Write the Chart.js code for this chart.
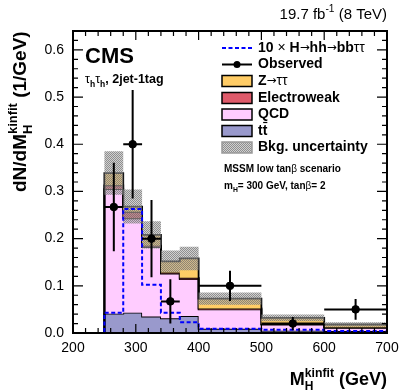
<!DOCTYPE html>
<html>
<head>
<meta charset="utf-8">
<script src="https://cdn.jsdelivr.net/npm/chart.js@4"></script>
<style>
  html, body { margin: 0; padding: 0; background: #fff; }
  #wrap { width: 407px; height: 391px; }
</style>
</head>
<body>
<div id="wrap"><canvas id="myChart" width="407" height="391"></canvas></div>
<script>
// bin edges (GeV) and per-bin contents (1/GeV)
const edges = [200, 250, 280, 310, 340, 370, 400, 500, 600, 700];
const ttbar = [0, 0.041, 0.043, 0.035, 0.031, 0.036, 0.009, 0.005, 0.004];
const qcd = [0, 0.264, 0.200, 0.147, 0.095, 0.078, 0.041, 0.013, 0.007];
const ewk = [0, 0.008, 0.014, 0.003, 0.002, 0.003, 0.002, 0.001, 0.001];
const ztt = [0, 0.026, 0.011, 0.023, 0.024, 0.041, 0.021, 0.013, 0.006];
const bkgUnc = [0, 0.046, 0.036, 0.029, 0.023, 0.025, 0.013, 0.007, 0.005];
const signal = [0, 0.043, 0.263, 0.102, 0.043, 0.023, 0.009, 0.007, 0.004];

// observed points
const obsX = [265, 295, 325, 355, 450, 550, 650];
const obsY = [0.267, 0.400, 0.200, 0.067, 0.100, 0.020, 0.050];
const obsErr = [0.094, 0.115, 0.082, 0.047, 0.032, 0.014, 0.022];

const FONT = "'Liberation Sans', Arial, Helvetica, sans-serif";
const SYM = "'DejaVu Sans', sans-serif";

// cumulative stack
function addArr(a, b) { return a.map((v, i) => v + b[i]); }
const s1 = ttbar;
const s2 = addArr(s1, qcd);
const s3 = addArr(s2, ewk);
const s4 = addArr(s3, ztt);
const uncLo = s4.map((v, i) => Math.max(0, v - bkgUnc[i]));
const uncHi = s4.map((v, i) => v + bkgUnc[i]);

// histogram values -> step points at the left edges + last edge
function steps(vals) {
  const pts = vals.map((v, i) => ({ x: edges[i], y: v }));
  pts.push({ x: edges[edges.length - 1], y: vals[vals.length - 1] });
  return pts;
}

// hatch pattern for the uncertainty band
function makeHatch() {
  const c = document.createElement("canvas");
  c.width = 2; c.height = 2;
  const g = c.getContext("2d");
  g.fillStyle = "rgba(170,170,170,0.55)";
  g.fillRect(0, 0, 2, 2);
  g.fillStyle = "rgba(100,100,100,0.6)";
  g.fillRect(0, 0, 1, 1);
  g.fillRect(1, 1, 1, 1);
  return g.createPattern(c, "repeat");
}
const hatch = makeHatch();

// draw text with sub/superscripts, returns width
function rich(ctx, parts, x, y, size, measureOnly) {
  let cx = x;
  parts.forEach(function (p) {
    let sz = size, dy = 0;
    if (p.s === "sub") { sz = size * 0.68; dy = size * 0.3; }
    if (p.s === "sup") { sz = size * 0.68; dy = -size * 0.45; }
    if (p.arrow) sz = size * 0.85;
    ctx.font = (p.normal ? "" : "bold ") + sz + "px " + (p.arrow ? SYM : FONT);
    if (!measureOnly) ctx.fillText(p.t, cx, y + dy);
    cx += ctx.measureText(p.t).width;
  });
  return cx - x;
}

const cmsPlugin = {
  id: "cmsDecor",
  afterDatasetsDraw(chart) {
    const ctx = chart.ctx;
    const xs = chart.scales.x, ys = chart.scales.y;
    // error bars of observed
    ctx.save();
    ctx.strokeStyle = "#000";
    ctx.lineWidth = 2;
    obsX.forEach(function (x, i) {
      let lo = edges[0], hi = edges[edges.length - 1];
      for (let k = 0; k < edges.length - 1; k++) {
        if (x >= edges[k] && x < edges[k + 1]) { lo = edges[k]; hi = edges[k + 1]; }
      }
      const px = xs.getPixelForValue(x), py = ys.getPixelForValue(obsY[i]);
      ctx.beginPath();
      ctx.moveTo(xs.getPixelForValue(lo), py);
      ctx.lineTo(xs.getPixelForValue(hi), py);
      ctx.moveTo(px, ys.getPixelForValue(obsY[i] - obsErr[i]));
      ctx.lineTo(px, ys.getPixelForValue(obsY[i] + obsErr[i]));
      ctx.stroke();
    });
    ctx.restore();
  },
  afterDraw(chart) {
    const ctx = chart.ctx;
    const a = chart.chartArea;
    const xs = chart.scales.x, ys = chart.scales.y;
    ctx.save();
    ctx.strokeStyle = "#000";
    ctx.lineWidth = 1.2;
    ctx.beginPath();
    for (let v = 200; v <= 700; v += 20) {
      const px = xs.getPixelForValue(v);
      const len = v % 100 === 0 ? 9 : 5;
      ctx.moveTo(px, a.bottom); ctx.lineTo(px, a.bottom - len);
      ctx.moveTo(px, a.top); ctx.lineTo(px, a.top + len);
    }
    for (let k = 0; k <= 32; k++) {
      const py = ys.getPixelForValue(k * 0.02);
      const len = k % 5 === 0 ? 10 : 5;
      ctx.moveTo(a.left, py); ctx.lineTo(a.left + len, py);
      ctx.moveTo(a.right, py); ctx.lineTo(a.right - len, py);
    }
    ctx.stroke();
    ctx.lineWidth = 2;
    ctx.strokeRect(a.left, a.top, a.right - a.left, a.bottom - a.top);

    ctx.fillStyle = "#000";
    ctx.textBaseline = "alphabetic";
    ctx.textAlign = "left";

    // lumi label
    const lumi = [{ t: "19.7 fb", normal: true }, { t: "-1", s: "sup", normal: true }, { t: " (8 TeV)", normal: true }];
    const lw = rich(ctx, lumi, 0, 0, 15, true);
    rich(ctx, lumi, a.right - lw, 19, 15);

    // CMS + channel
    ctx.font = "bold 22px " + FONT;
    ctx.fillText("CMS", 85, 63);
    rich(ctx, [{ t: "τ", normal: true }, { t: "h", s: "sub" }, { t: "τ", normal: true }, { t: "h", s: "sub" }, { t: ", 2jet-1tag" }], 85, 83, 12.5);

    // scenario text
    rich(ctx, [{ t: "MSSM low tan" }, { t: "β", normal: true }, { t: " scenario" }], 224, 172, 10);
    rich(ctx, [{ t: "m" }, { t: "H", s: "sub" }, { t: "= 300 GeV, tan" }, { t: "β", normal: true }, { t: "= 2" }], 224, 189, 10);

    // legend
    const lx = 222, lbw = 30, tx = 258;
    ctx.textBaseline = "middle";
    // signal
    ctx.strokeStyle = "#0000ff";
    ctx.lineWidth = 2;
    ctx.setLineDash([4, 2.5]);
    ctx.beginPath(); ctx.moveTo(lx, 48); ctx.lineTo(lx + lbw, 48); ctx.stroke();
    ctx.setLineDash([]);
    rich(ctx, [{ t: "10" }, { t: " × ", normal: true }, { t: "H" }, { t: "→", arrow: true, normal: true }, { t: "hh" }, { t: "→", arrow: true, normal: true }, { t: "bb" }, { t: "ττ", normal: true }], tx, 48, 14);
    // observed
    ctx.strokeStyle = "#000";
    ctx.beginPath(); ctx.moveTo(lx, 64.5); ctx.lineTo(lx + lbw, 64.5); ctx.stroke();
    ctx.beginPath(); ctx.arc(lx + lbw / 2, 64.5, 3.5, 0, Math.PI * 2); ctx.fill();
    rich(ctx, [{ t: "Observed" }], tx, 64.5, 14);
    const boxes = [
      { c: "#FFCC66", y: 81, parts: [{ t: "Z" }, { t: "→", arrow: true, normal: true }, { t: "ττ", normal: true }] },
      { c: "#DE5A6A", y: 98, parts: [{ t: "Electroweak" }] },
      { c: "#FFCCFF", y: 114.5, parts: [{ t: "QCD" }] },
      { c: "#9999CC", y: 131, parts: [{ t: "tt" }] },
      { c: hatch, y: 147.5, parts: [{ t: "Bkg. uncertainty" }] },
    ];
    boxes.forEach(function (b) {
      if (b.c === hatch) { ctx.fillStyle = "#fff"; ctx.fillRect(lx, b.y - 5.5, lbw, 11); }
      ctx.fillStyle = b.c;
      ctx.fillRect(lx, b.y - 5.5, lbw, 11);
      ctx.strokeStyle = b.c === hatch ? "#999" : "#000";
      ctx.lineWidth = 1.5;
      ctx.strokeRect(lx, b.y - 5.5, lbw, 11);
      ctx.fillStyle = "#000";
      rich(ctx, b.parts, tx, b.y, 14);
    });
    // bar over the second t of tt
    ctx.font = "bold 14px " + FONT;
    const tw = ctx.measureText("t").width;
    ctx.lineWidth = 1.2;
    ctx.strokeStyle = "#000";
    ctx.beginPath(); ctx.moveTo(tx + tw + 0.5, 122.5); ctx.lineTo(tx + 2 * tw, 122.5); ctx.stroke();

    // axis titles
    ctx.textBaseline = "alphabetic";
    const xt = [{ t: "M" }, { t: "kinfit", s: "sup" }, { t: " (GeV)" }];
    const xtw = rich(ctx, xt, 0, 0, 18, true);
    ctx.font = "bold 18px " + FONT;
    const mw = ctx.measureText("M").width;
    rich(ctx, xt, a.right - xtw, 385, 18);
    ctx.font = "bold 12px " + FONT;
    ctx.fillText("H", a.right - xtw + mw, 390);

    ctx.save();
    ctx.translate(26, 192);
    ctx.rotate(-Math.PI / 2);
    const yt = [{ t: "dN/dM" }, { t: "kinfit", s: "sup" }, { t: " (1/GeV)" }];
    rich(ctx, yt, 0, 0, 19);
    ctx.font = "bold 19px " + FONT;
    const dw = ctx.measureText("dN/dM").width;
    ctx.font = "bold 13px " + FONT;
    ctx.fillText("H", dw, 5.5);
    ctx.restore();
    ctx.restore();
  },
};

function stackSet(label, vals, color, fill, order) {
  return {
    label: label,
    data: steps(vals),
    stepped: "before",
    fill: fill,
    backgroundColor: color,
    borderColor: "#000",
    borderWidth: 1.8,
    pointRadius: 0,
    order: order,
  };
}

const ctx = document.getElementById("myChart");

new Chart(ctx, {
  type: "line",
  data: {
    datasets: [
      stackSet("tt", s1, "#9999CC", "origin", 10),
      stackSet("QCD", s2, "#FFCCFF", "-1", 9),
      stackSet("Electroweak", s3, "#DE5A6A", "-1", 8),
      stackSet("Z→ττ", s4, "#FFCC66", "-1", 7),
      {
        label: "uncLo",
        data: steps(uncLo),
        stepped: "before",
        fill: false,
        borderWidth: 0,
        borderColor: "rgba(0,0,0,0)",
        pointRadius: 0,
        order: 6,
      },
      {
        label: "Bkg. uncertainty",
        data: steps(uncHi),
        stepped: "before",
        fill: "-1",
        backgroundColor: hatch,
        borderWidth: 0,
        borderColor: "rgba(0,0,0,0)",
        pointRadius: 0,
        order: 5,
      },
      {
        label: "signal",
        data: steps(signal),
        stepped: "before",
        fill: false,
        borderColor: "#0000ff",
        borderWidth: 2,
        borderDash: [4, 2.5],
        pointRadius: 0,
        order: 2,
      },
      {
        type: "scatter",
        label: "Observed",
        data: obsX.map((x, i) => ({ x: x, y: obsY[i] })),
        backgroundColor: "#000",
        borderColor: "#000",
        pointRadius: 3.8,
        showLine: false,
        order: 1,
      },
    ],
  },
  options: {
    responsive: false,
    animation: false,
    devicePixelRatio: 1,
    layout: { padding: { left: 0, top: 31, right: 20, bottom: 0 } },
    plugins: { legend: { display: false }, tooltip: { enabled: false } },
    scales: {
      x: {
        type: "linear",
        min: 200,
        max: 700,
        grid: { display: false, drawTicks: false },
        border: { display: false },
        ticks: {
          stepSize: 100,
          autoSkip: false,
          maxRotation: 0,
          padding: 7,
          color: "#000",
          font: { size: 14, family: FONT },
        },
        afterFit(s) { s.height = 58; },
      },
      y: {
        min: 0,
        max: 0.64,
        grid: { display: false, drawTicks: false },
        border: { display: false },
        ticks: {
          stepSize: 0.1,
          includeBounds: false,
          padding: 9,
          color: "#000",
          font: { size: 14, family: FONT },
          callback: (v) => v.toFixed(1),
        },
        afterFit(s) { s.width = 73; },
      },
    },
  },
  plugins: [cmsPlugin],
});
</script>
</body>
</html>
